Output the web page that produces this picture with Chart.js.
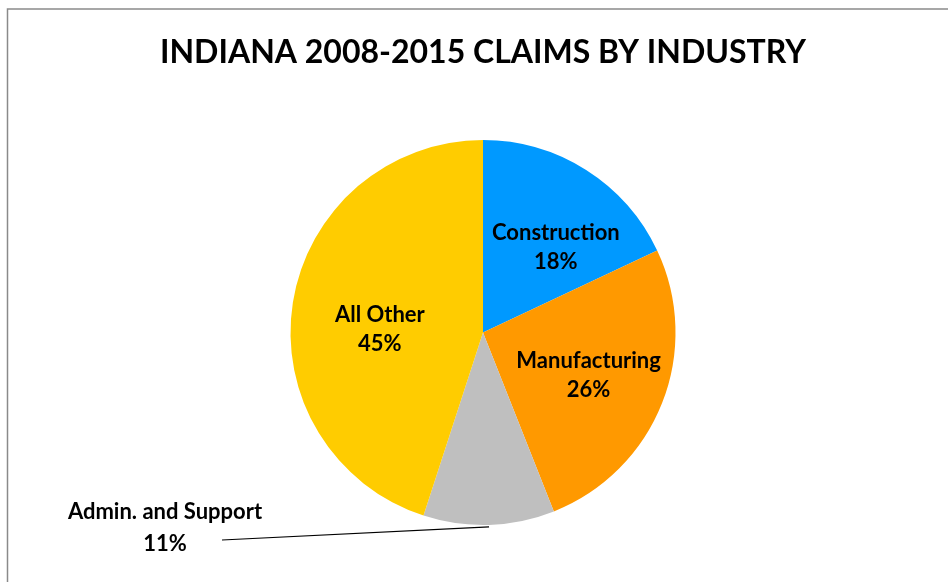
<!DOCTYPE html>
<html>
<head>
<meta charset="utf-8">
<script src="https://cdn.jsdelivr.net/npm/chart.js@4.4.1/dist/chart.umd.min.js"></script>
<style>
  html, body { margin: 0; padding: 0; background: #fff; }
  #wrap { width: 948px; height: 582px; position: relative; }
</style>
</head>
<body>
<div id="wrap"><canvas id="myChart"></canvas></div>
<script>
// Data
const chartTitle = 'INDIANA 2008-2015 CLAIMS BY INDUSTRY';
const industries = ['Construction', 'Manufacturing', 'Admin. and Support', 'All Other'];
const shares = [18, 26, 11, 45];
const sliceColors = ['#0099FF', '#FF9900', '#BFBFBF', '#FFCC00'];

// small label nudges (Excel doesn't put labels exactly on the mid angle)
const labelNudge = [[12, 10], [0, 1], [0, 0], [9, 14]];

const fontFamily = 'Lato, "Open Sans", sans-serif';
const labelFont = 'bold 22px ' + fontFamily;

// Frame + title (drawn by hand so the title isn't squeezed into the pie's padded box)
const framePlugin = {
    id: 'frame',
    beforeDraw(chart) {
        const ctx = chart.ctx;
        ctx.save();
        ctx.strokeStyle = '#8a8a8a';
        ctx.lineWidth = 1.5;
        ctx.beginPath();
        ctx.moveTo(7.5, chart.height);
        ctx.lineTo(7.5, 9);
        ctx.lineTo(chart.width, 9);
        ctx.stroke();

        ctx.fillStyle = '#000';
        ctx.font = 'bold 32px ' + fontFamily;
        ctx.textAlign = 'center';
        ctx.textBaseline = 'middle';
        ctx.fillText(chartTitle, 483, 53);
        ctx.restore();
    }
};

// Data labels: category name + percent, the small slice gets an outside label with a leader line
const sliceLabels = {
    id: 'sliceLabels',
    afterDatasetsDraw(chart) {
        const ctx = chart.ctx;
        const meta = chart.getDatasetMeta(0);
        const total = shares.reduce((a, b) => a + b, 0);
        ctx.save();
        ctx.font = labelFont;
        ctx.fillStyle = '#000';
        ctx.textAlign = 'center';
        ctx.textBaseline = 'middle';
        meta.data.forEach((arc, i) => {
            const pct = Math.round(shares[i] / total * 100) + '%';
            const mid = (arc.startAngle + arc.endAngle) / 2;
            if (i === 2) {
                const lx = 165, ly = 528;
                ctx.strokeStyle = '#000';
                ctx.lineWidth = 1.2;
                ctx.beginPath();
                ctx.moveTo(222, ly + 12);
                ctx.lineTo(arc.x + Math.cos(mid) * arc.outerRadius, arc.y + Math.sin(mid) * arc.outerRadius + 2);
                ctx.stroke();
                ctx.fillText(industries[i], lx, ly - 16);
                ctx.fillText(pct, lx, ly + 16);
                return;
            }
            const r = arc.outerRadius * 0.59;
            const x = arc.x + Math.cos(mid) * r + labelNudge[i][0];
            const y = arc.y + Math.sin(mid) * r + labelNudge[i][1];
            ctx.fillText(industries[i], x, y - 14);
            ctx.fillText(pct, x, y + 15);
        });
        ctx.restore();
    }
};

new Chart(document.getElementById('myChart'), {
    type: 'pie',
    data: {
        labels: industries,
        datasets: [{
            data: shares,
            backgroundColor: sliceColors,
            borderWidth: 0
        }]
    },
    options: {
        responsive: true,
        maintainAspectRatio: false,
        animation: false,
        layout: { padding: { top: 140, bottom: 57, left: 290, right: 272 } },
        plugins: {
            legend: { display: false },
            tooltip: { enabled: false },
            title: { display: false }
        }
    },
    plugins: [framePlugin, sliceLabels]
});
</script>
</body>
</html>
